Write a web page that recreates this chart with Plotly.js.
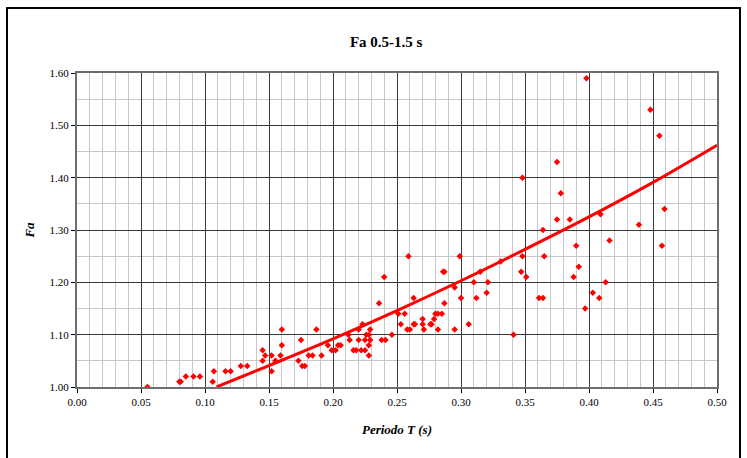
<!DOCTYPE html>
<html>
<head>
<meta charset="utf-8">
<script src="https://cdn.plot.ly/plotly-3.0.1.min.js"></script>
<style>
html,body{margin:0;padding:0;background:#fff;}
#chart{width:747px;height:458px;}
</style>
</head>
<body>
<div id="chart"></div>
<script>
// Observed data: period T (s) and amplification factor Fa
var periodT = [
  0.055, 0.080, 0.081, 0.085, 0.091, 0.096, 0.106, 0.107, 0.116, 0.120,
  0.128, 0.133, 0.145, 0.145, 0.147, 0.152, 0.152, 0.155, 0.159, 0.160,
  0.160, 0.173, 0.175, 0.176, 0.178, 0.181, 0.184, 0.187, 0.191, 0.196,
  0.199, 0.202, 0.204, 0.206, 0.212, 0.213, 0.216, 0.218, 0.220, 0.220,
  0.222, 0.223, 0.225, 0.225, 0.226, 0.228, 0.228, 0.228, 0.229, 0.229,
  0.236, 0.238, 0.241, 0.240, 0.246, 0.251, 0.253, 0.256, 0.258, 0.260,
  0.259, 0.263, 0.264, 0.263, 0.270, 0.270, 0.271, 0.276, 0.277, 0.279,
  0.280, 0.282, 0.285, 0.282, 0.286, 0.287, 0.287, 0.295, 0.295, 0.299,
  0.300, 0.306, 0.310, 0.312, 0.315, 0.321, 0.320, 0.331, 0.341, 0.347,
  0.348, 0.348, 0.351, 0.361, 0.364, 0.364, 0.365, 0.375, 0.375, 0.378,
  0.385, 0.388, 0.390, 0.392, 0.397, 0.398, 0.403, 0.408, 0.409, 0.413,
  0.416, 0.439, 0.448, 0.455, 0.457, 0.459
];
var fa = [
  1.00, 1.01, 1.01, 1.02, 1.02, 1.02, 1.01, 1.03, 1.03, 1.03,
  1.04, 1.04, 1.07, 1.05, 1.06, 1.06, 1.03, 1.05, 1.06, 1.08,
  1.11, 1.05, 1.09, 1.04, 1.04, 1.06, 1.06, 1.11, 1.06, 1.08,
  1.07, 1.07, 1.08, 1.08, 1.10, 1.09, 1.07, 1.07, 1.09, 1.11,
  1.07, 1.12, 1.07, 1.09, 1.10, 1.10, 1.08, 1.06, 1.09, 1.11,
  1.16, 1.09, 1.09, 1.21, 1.10, 1.14, 1.12, 1.14, 1.11, 1.11,
  1.25, 1.12, 1.12, 1.17, 1.13, 1.12, 1.11, 1.12, 1.12, 1.13,
  1.14, 1.14, 1.14, 1.11, 1.22, 1.22, 1.16, 1.11, 1.19, 1.25,
  1.17, 1.12, 1.20, 1.17, 1.22, 1.20, 1.18, 1.24, 1.10, 1.22,
  1.25, 1.40, 1.21, 1.17, 1.17, 1.30, 1.25, 1.43, 1.32, 1.37,
  1.32, 1.21, 1.27, 1.23, 1.15, 1.59, 1.18, 1.17, 1.33, 1.20,
  1.28, 1.31, 1.53, 1.48, 1.27, 1.34
];
// Trend line
var trendT  = [0.109, 0.15, 0.20, 0.25, 0.30, 0.35, 0.40, 0.45, 0.50];
var trendFa = [1.000, 1.041, 1.092, 1.146, 1.203, 1.263, 1.325, 1.391, 1.462];
// Tick labels
var xTicks = [0.00, 0.05, 0.10, 0.15, 0.20, 0.25, 0.30, 0.35, 0.40, 0.45, 0.50];
var yTicks = [1.00, 1.10, 1.20, 1.30, 1.40, 1.50, 1.60];
var xTickText = xTicks.map(function(v){return v.toFixed(2);});
var yTickText = yTicks.map(function(v){return v.toFixed(2);});

var serif = "'Liberation Serif', 'Times New Roman', serif";

var traces = [
  {
    x: periodT, y: fa, type: 'scatter', mode: 'markers',
    marker: {symbol: 'diamond', size: 5, color: '#ff0000'},
    hoverinfo: 'skip', cliponaxis: true
  },
  {
    x: trendT, y: trendFa, type: 'scatter', mode: 'lines',
    line: {color: '#ff0000', width: 3, shape: 'spline'},
    hoverinfo: 'skip'
  }
];

var layout = {
  width: 747, height: 458,
  margin: {l: 77, r: 30, t: 73, b: 71, pad: 0},
  paper_bgcolor: '#ffffff', plot_bgcolor: '#ffffff',
  showlegend: false,
  font: {family: serif, color: '#000', size: 11},
  title: {
    text: '<b>Fa 0.5-1.5 s</b>',
    font: {family: serif, size: 15, color: '#000'},
    x: 0.517, xref: 'container', xanchor: 'center',
    y: 0.908, yref: 'container', yanchor: 'middle'
  },
  xaxis: {
    range: [0, 0.5], tickvals: xTicks, ticktext: xTickText,
    showgrid: true, gridcolor: '#3a3a3a', gridwidth: 1,
    minor: {dtick: 0.01, tick0: 0, showgrid: true, gridcolor: '#c8c8c8', gridwidth: 1, ticks: ''},
    showline: true, linecolor: '#6e6e6e', linewidth: 2, mirror: true,
    ticks: 'outside', ticklen: 4, tickcolor: '#000', tickwidth: 1,
    zeroline: false, tickfont: {family: serif, size: 11, color: '#000'},
    title: {text: '<b><i>Periodo T (s)</i></b>', font: {family: serif, size: 13, color: '#000'}, standoff: 18}
  },
  yaxis: {
    range: [1.0, 1.6], tickvals: yTicks, ticktext: yTickText,
    showgrid: true, gridcolor: '#3a3a3a', gridwidth: 1,
    minor: {dtick: 0.05, tick0: 1.0, showgrid: true, gridcolor: '#c8c8c8', gridwidth: 1, ticks: ''},
    showline: true, linecolor: '#6e6e6e', linewidth: 2, mirror: true,
    ticks: 'outside', ticklen: 4, tickcolor: '#000', tickwidth: 1,
    zeroline: false, tickfont: {family: serif, size: 11, color: '#000'},
    title: {text: '<b><i>Fa</i></b>', font: {family: serif, size: 13, color: '#000'}, standoff: 12}
  },
  shapes: [
    {type: 'rect', xref: 'paper', yref: 'paper',
     x0: (7 - 77) / 640, x1: (740 - 77) / 640,
     y0: (387 - 470) / 314, y1: (387 - 8) / 314,
     line: {color: '#000', width: 2}, fillcolor: 'rgba(0,0,0,0)', layer: 'below'}
  ]
};

Plotly.newPlot('chart', traces, layout, {displayModeBar: false, staticPlot: true});
</script>
</body>
</html>
